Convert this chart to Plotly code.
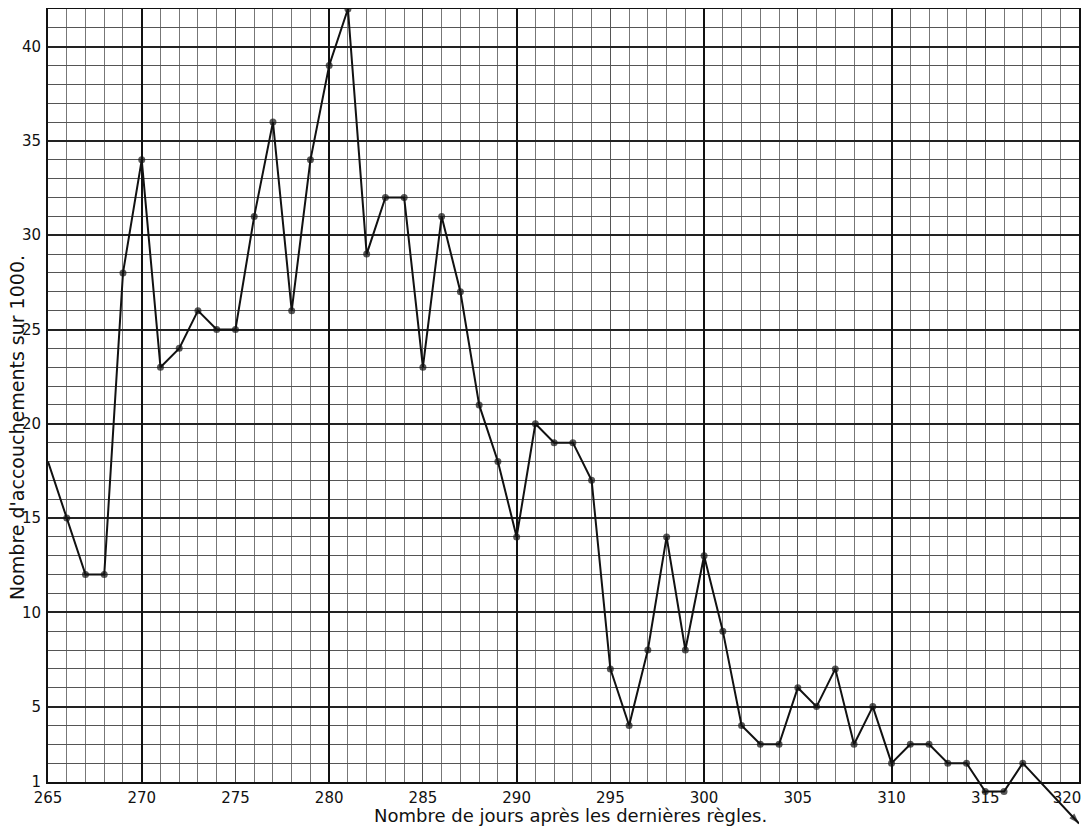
import plotly.graph_objects as go

days = list(range(265, 318)) + [320]
values = [18, 15, 12, 12, 28, 34, 23, 24, 26, 25,
          25, 31, 36, 26, 34, 39, 42, 29, 32, 32,
          23, 31, 27, 21, 18, 14, 20, 19, 19, 17,
          7, 4, 8, 14, 8, 13, 9, 4, 3, 3,
          6, 5, 7, 3, 5, 2, 3, 3, 2, 2,
          0.5, 0.5, 2, -1.2]

x_ticks = list(range(265, 321, 5))
x_heavy = [270, 280, 290, 300, 310]
y_ticks = [1, 5, 10, 15, 20, 25, 30, 35, 40]
x_range = [265, 320]
y_range = [1, 42]

x_title = "Nombre de jours après les dernières règles."
y_title = "Nombre d'accouchements sur 1000."

font_family = "DejaVu Sans"

# figure geometry (the page body adds an 8px margin)
W, H = 1076, 819
m_l, m_r, m_t, m_b = 40, 5, 1, 0
grid_bottom_px = 45                      # grid frame bottom, px above figure bottom
area_h = H - m_t - m_b
area_w = W - m_l - m_r
d0 = grid_bottom_px / area_h             # grid sub-domain starts here
# the curve layer spans the full area so the tail below the frame stays visible
units_per_frac = (y_range[1] - y_range[0]) / (1 - d0)
curve_y_range = [y_range[0] - d0 * units_per_frac, y_range[1]]

# last label sits against the right edge: pad it so it stays on the page
x_ticktext = [str(v) for v in x_ticks]
x_ticktext[-1] = x_ticktext[-1] + "\u00a0" * 5

symbols = ["circle"] * (len(days) - 1) + ["arrow"]
sizes = [7] * (len(days) - 1) + [11]

fig = go.Figure()
# invisible helper traces so the grid axes are drawn
fig.add_trace(go.Scatter(
    x=[x_range[0]], y=[y_range[0]], xaxis="x", yaxis="y", mode="markers",
    marker=dict(opacity=0), showlegend=False, hoverinfo="skip",
))
fig.add_trace(go.Scatter(
    x=[x_range[0]], y=[y_range[0]], xaxis="x2", yaxis="y", mode="markers",
    marker=dict(opacity=0), showlegend=False, hoverinfo="skip",
))
fig.add_trace(go.Scatter(
    x=days, y=values, xaxis="x3", yaxis="y3", mode="lines+markers",
    line=dict(color="#111111", width=2),
    marker=dict(symbol=symbols, size=sizes, color="#111111", angleref="previous",
                line=dict(width=0)),
    cliponaxis=False, showlegend=False, hoverinfo="x+y",
))

fig.update_layout(
    template="none",
    width=W, height=H,
    margin=dict(l=m_l, r=m_r, t=m_t, b=m_b, autoexpand=False),
    paper_bgcolor="white", plot_bgcolor="rgba(0,0,0,0)",
    font=dict(family=font_family, color="#111111"),
    xaxis=dict(
        range=x_range, anchor="y", tickmode="array", tickvals=x_ticks,
        ticktext=x_ticktext,
        showgrid=True, gridcolor="#555555", gridwidth=1,
        minor=dict(tickmode="linear", tick0=265, dtick=1, showgrid=True,
                   gridcolor="#777777", gridwidth=1, ticks=""),
        showline=True, linecolor="#111111", linewidth=2, mirror=True,
        ticks="", tickfont=dict(size=15, family=font_family), zeroline=False,
        automargin=False, ticklabeloverflow="allow", ticklabelstandoff=1,
        fixedrange=True,
    ),
    xaxis2=dict(
        range=x_range, overlaying="x", anchor="y", tickmode="array", tickvals=x_heavy,
        showgrid=True, gridcolor="#111111", gridwidth=2,
        showticklabels=False, ticks="", zeroline=False, showline=False,
        automargin=False, fixedrange=True,
    ),
    yaxis=dict(
        range=y_range, domain=[d0, 1], anchor="x", tickmode="array", tickvals=y_ticks,
        ticktext=[str(v) for v in y_ticks],
        showgrid=True, gridcolor="#222222", gridwidth=2,
        minor=dict(tickmode="linear", tick0=0, dtick=1, showgrid=True,
                   gridcolor="#555555", gridwidth=1, ticks=""),
        showline=True, linecolor="#111111", linewidth=2, mirror=True,
        ticks="", tickfont=dict(size=15, family=font_family), zeroline=False,
        ticklabelstandoff=2, automargin=False, ticklabeloverflow="allow",
        fixedrange=True,
    ),
    xaxis3=dict(
        range=x_range, anchor="y3", domain=[0, 1], visible=False, fixedrange=True,
    ),
    yaxis3=dict(
        range=curve_y_range, anchor="x3", domain=[0, 1], visible=False, fixedrange=True,
    ),
    annotations=[
        dict(text=x_title, xref="paper", yref="paper", x=(570 - 8 - m_l) / area_w,
             y=12 / area_h,
             xanchor="center", yanchor="middle", showarrow=False,
             font=dict(size=18, family=font_family, color="#111111")),
        dict(text=y_title, xref="paper", yref="paper", x=(17 - 8 - m_l) / area_w,
             y=(H - m_b - (428 - 8)) / area_h,
             xanchor="center", yanchor="middle", showarrow=False, textangle=-90,
             font=dict(size=19, family=font_family, color="#111111")),
    ],
)

fig.write_html("out.html")
